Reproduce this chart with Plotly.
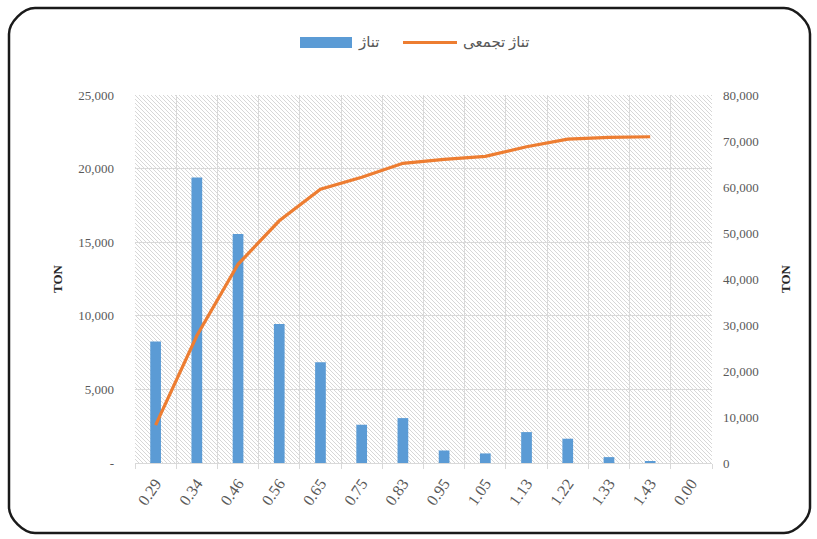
import base64
import plotly.graph_objects as go

# Size classes (x axis) and tonnage per class
categories = ["0.29", "0.34", "0.46", "0.56", "0.65", "0.75", "0.83",
              "0.95", "1.05", "1.13", "1.22", "1.33", "1.43", "0.00"]
tonnage = [8250, 19400, 15550, 9450, 6850, 2600, 3050,
           850, 650, 2100, 1650, 400, 120, 0]
cumulative = [8250, 27650, 43200, 52650, 59500, 62100, 65150,
              66000, 66650, 68750, 70400, 70800, 70920, None]

left_ticks = [0, 5000, 10000, 15000, 20000, 25000]
left_ticktext = ["-", "5,000", "10,000", "15,000", "20,000", "25,000"]
right_ticks = [0, 10000, 20000, 30000, 40000, 50000, 60000, 70000, 80000]
right_ticktext = ["0", "10,000", "20,000", "30,000", "40,000",
                  "50,000", "60,000", "70,000", "80,000"]

BAR_NAME = "تناژ"
LINE_NAME = "تناژ تجمعی"

BLUE = "#5B9BD5"
ORANGE = "#ED7D31"
GRID = "#d9d9d9"
TEXT = "#595959"
SERIF = "Times New Roman, Liberation Serif, DejaVu Sans, serif"

# page and plot-area geometry (pixels)
W_PAGE, H_PAGE = 817, 539
L, R, T, B = 135, 712, 95, 463
PW, PH = R - L, B - T


def fx(x):
    return (x - L) / PW


def fy(y):
    return (B - y) / PH


# diagonal hatch used as the plot-area background
hatch_svg = (
    f'<svg xmlns="http://www.w3.org/2000/svg" width="{PW}" height="{PH}">'
    '<defs><pattern id="h" patternUnits="userSpaceOnUse" width="4" height="4">'
    '<path d="M-1,-1 L5,5 M-1,3 L1,5 M3,-1 L5,1" stroke="#d3d3d3" stroke-width="0.9"/>'
    '</pattern></defs>'
    f'<rect width="{PW}" height="{PH}" fill="url(#h)"/></svg>'
)
hatch_uri = "data:image/svg+xml;base64," + base64.b64encode(hatch_svg.encode()).decode()

fig = go.Figure()

fig.add_trace(go.Bar(
    x=categories, y=tonnage, name=BAR_NAME,
    marker=dict(color=BLUE, line=dict(width=0)),
    width=0.26, yaxis="y", showlegend=False,
))
fig.add_trace(go.Scatter(
    x=categories, y=cumulative, name=LINE_NAME, mode="lines",
    line=dict(color=ORANGE, width=3.2), yaxis="y2", showlegend=False,
    connectgaps=False,
))

# rounded outer frame
x0, x1, y0, y1, r = 9, 810, 8, 533, 26
k = 0.45 * r
path = (
    f"M {fx(x0 + r)},{fy(y0)} L {fx(x1 - r)},{fy(y0)} "
    f"C {fx(x1 - r + k)},{fy(y0)} {fx(x1)},{fy(y0 + r - k)} {fx(x1)},{fy(y0 + r)} "
    f"L {fx(x1)},{fy(y1 - r)} "
    f"C {fx(x1)},{fy(y1 - r + k)} {fx(x1 - r + k)},{fy(y1)} {fx(x1 - r)},{fy(y1)} "
    f"L {fx(x0 + r)},{fy(y1)} "
    f"C {fx(x0 + r - k)},{fy(y1)} {fx(x0)},{fy(y1 - r + k)} {fx(x0)},{fy(y1 - r)} "
    f"L {fx(x0)},{fy(y0 + r)} "
    f"C {fx(x0)},{fy(y0 + r - k)} {fx(x0 + r - k)},{fy(y0)} {fx(x0 + r)},{fy(y0)} Z"
)

shapes = [
    dict(type="path", path=path, xref="paper", yref="paper",
         line=dict(color="#1a1a1a", width=2.5), fillcolor="rgba(0,0,0,0)",
         layer="above"),
    # legend swatches
    dict(type="rect", xref="paper", yref="paper",
         x0=fx(300), x1=fx(352), y0=fy(48), y1=fy(37),
         fillcolor=BLUE, line=dict(width=0)),
    dict(type="line", xref="paper", yref="paper",
         x0=fx(403), x1=fx(457), y0=fy(42.5), y1=fy(42.5),
         line=dict(color=ORANGE, width=3.2)),
]

annotations = [
    dict(text=BAR_NAME, xref="paper", yref="paper", x=fx(356), y=fy(42.5),
         xanchor="left", yanchor="middle", showarrow=False,
         font=dict(family=SERIF, size=15, color=TEXT)),
    dict(text=LINE_NAME, xref="paper", yref="paper", x=fx(461), y=fy(42.5),
         xanchor="left", yanchor="middle", showarrow=False,
         font=dict(family=SERIF, size=15, color=TEXT)),
    dict(text="<b>TON</b>", xref="paper", yref="paper", x=fx(57), y=fy(279),
         xanchor="center", yanchor="middle", showarrow=False, textangle=-90,
         font=dict(family=SERIF, size=13, color="#262626")),
    dict(text="<b>TON</b>", xref="paper", yref="paper", x=fx(785), y=fy(279),
         xanchor="center", yanchor="middle", showarrow=False, textangle=-90,
         font=dict(family=SERIF, size=13, color="#262626")),
]

fig.update_layout(
    width=W_PAGE, height=H_PAGE,
    margin=dict(l=L, r=W_PAGE - R, t=T, b=H_PAGE - B, pad=0),
    paper_bgcolor="white",
    plot_bgcolor="rgba(0,0,0,0)",
    barmode="overlay",
    showlegend=False,
    font=dict(family=SERIF, size=13, color=TEXT),
    xaxis=dict(
        type="category", range=[-0.5, len(categories) - 0.5],
        tickson="boundaries", ticks="outside", ticklen=5, tickcolor=GRID,
        showgrid=True, gridcolor=GRID, gridwidth=1,
        showline=True, linecolor=GRID, linewidth=1,
        tickangle=-55, ticklabelstandoff=4,
        tickfont=dict(family=SERIF, size=16, color=TEXT),
        fixedrange=True,
    ),
    yaxis=dict(
        range=[0, 25000], tickvals=left_ticks, ticktext=left_ticktext,
        showgrid=True, gridcolor=GRID, gridwidth=1, zeroline=False,
        showline=False, ticks="", ticklabelstandoff=20,
        tickfont=dict(family=SERIF, size=13, color=TEXT),
    ),
    yaxis2=dict(
        overlaying="y", side="right", anchor="x",
        range=[0, 80000], tickvals=right_ticks, ticktext=right_ticktext,
        showgrid=False, zeroline=False, showline=False, ticks="",
        ticklabelstandoff=10,
        tickfont=dict(family=SERIF, size=13, color=TEXT),
    ),
    shapes=shapes,
    annotations=annotations,
    images=[dict(source=hatch_uri, xref="x domain", yref="y domain",
                 x=0, y=1, sizex=1, sizey=1, xanchor="left", yanchor="top",
                 sizing="stretch", layer="below")],
)

fig.write_html("out.html")
